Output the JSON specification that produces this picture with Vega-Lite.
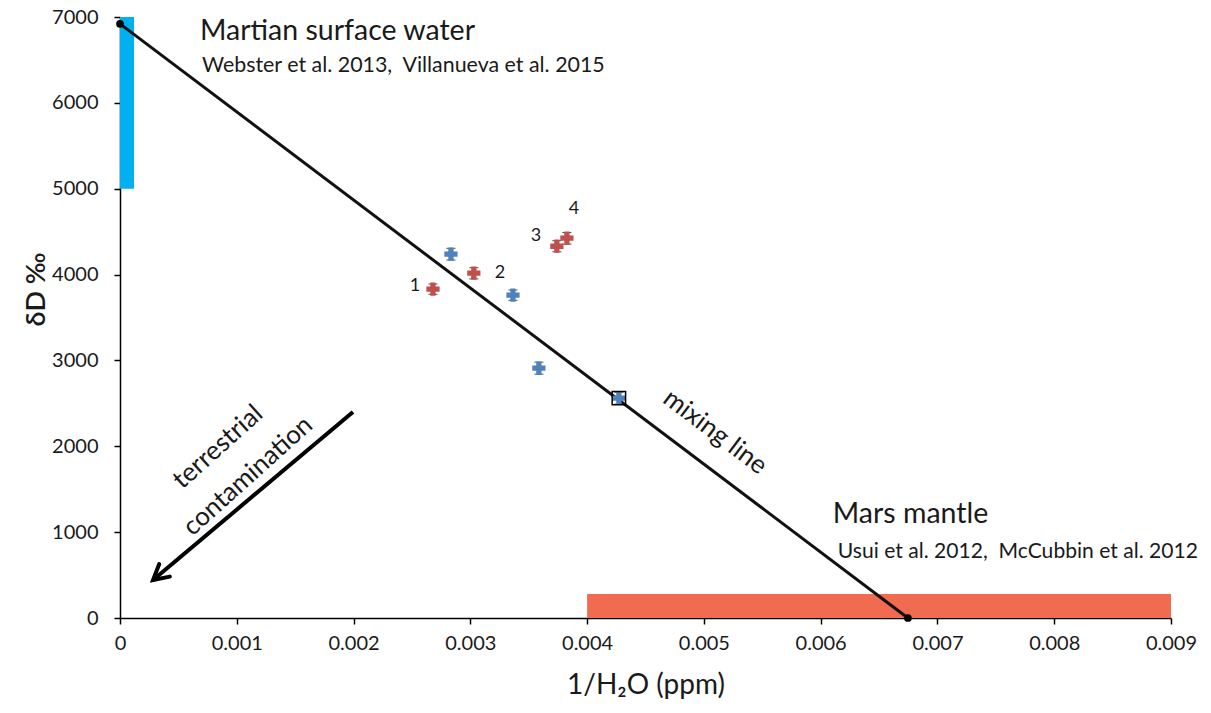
{
  "$schema": "https://vega.github.io/schema/vega-lite/v6.json",
  "autosize": "none",
  "width": 1051,
  "height": 601,
  "padding": {"left": 120, "top": 17, "right": 40, "bottom": 95},
  "background": "white",
  "config": {
    "font": "Lato",
    "view": {"stroke": null},
    "axis": {"grid": false, "domainColor": "black", "domainWidth": 1.5, "tickColor": "black", "tickWidth": 1.5, "tickSize": 6, "labelColor": "#1a1a1a", "labelFontSize": 20, "titleFontSize": 28, "titleFontWeight": "normal", "titleColor": "#1a1a1a"}
  },
  "datasets": {
    "samples": [
      {"h": 0.002834, "d": 4238, "series": "blue", "lo": 4170, "hi": 4306},
      {"h": 0.003365, "d": 3760, "series": "blue", "lo": 3700, "hi": 3820},
      {"h": 0.003587, "d": 2910, "series": "blue", "lo": 2840, "hi": 2980},
      {"h": 0.004272, "d": 2561, "series": "blue", "lo": 2490, "hi": 2630},
      {"h": 0.00268, "d": 3830, "series": "red", "lo": 3770, "hi": 3890},
      {"h": 0.00303, "d": 4016, "series": "red", "lo": 3950, "hi": 4080},
      {"h": 0.003741, "d": 4330, "series": "red", "lo": 4265, "hi": 4395},
      {"h": 0.003827, "d": 4424, "series": "red", "lo": 4355, "hi": 4490}
    ],
    "mixing": [
      {"h": 0, "d": 6920},
      {"h": 0.006747, "d": 0}
    ],
    "arrow": [
      {"h": 0.001995, "d": 2399, "o": 1},
      {"h": 0.000283, "d": 443, "o": 2}
    ],
    "bars": [
      {"h": 0, "h2": 0.00012, "d": 5000, "d2": 7000, "c": "#00B0F0"},
      {"h": 0.004, "h2": 0.009, "d": 0, "d2": 280, "c": "#F06B50"}
    ],
    "nums": [
      {"h": 0.002526, "d": 3865, "t": "1"},
      {"h": 0.003253, "d": 4016, "t": "2"},
      {"h": 0.003562, "d": 4447, "t": "3"},
      {"h": 0.003887, "d": 4761, "t": "4"}
    ]
  },
  "encoding": {
    "x": {"field": "h", "type": "quantitative", "scale": {"domain": [0, 0.009], "nice": false, "zero": false},
      "axis": {"title": "1/H₂O (ppm)", "values": [0, 0.001, 0.002, 0.003, 0.004, 0.005, 0.006, 0.007, 0.008, 0.009], "labelExpr": "datum.value == 0 ? '0' : format(datum.value, '.3f')", "labelPadding": 9, "titleY": 53, "labelFlush": false}},
    "y": {"field": "d", "type": "quantitative", "scale": {"domain": [0, 7000], "nice": false},
      "axis": {"title": "δD ‰", "values": [0, 1000, 2000, 3000, 4000, 5000, 6000, 7000], "format": "d", "labelPadding": 16, "titleX": -70, "titleY": 272, "titleFontWeight": 600, "titleFontSize": 27, "labelFlush": false}}
  },
  "layer": [
    {"data": {"name": "bars"}, "mark": {"type": "rect"},
      "encoding": {"x2": {"field": "h2"}, "y2": {"field": "d2"}, "color": {"field": "c", "type": "nominal", "scale": null}}},
    {"data": {"name": "mixing"}, "mark": {"type": "line", "color": "#111", "strokeWidth": 3}, "encoding": {}},
    {"data": {"name": "mixing"}, "mark": {"type": "point", "filled": true, "color": "black", "size": 60, "opacity": 1}, "encoding": {}},
    {"data": {"name": "arrow"}, "mark": {"type": "line", "color": "black", "strokeWidth": 4}, "encoding": {"order": {"field": "o"}}},
    {"data": {"name": "arrow"}, "transform": [{"filter": "datum.o == 2"}],
      "mark": {"type": "point", "shape": "M -0.55 1 L 0 0 L 0.55 1", "filled": false, "color": "black", "strokeWidth": 4, "size": 900, "angle": 230, "opacity": 1, "strokeCap": "round"}, "encoding": {}},
    {"data": {"name": "samples"}, "mark": {"type": "errorbar", "ticks": {"size": 9, "color": "black"}, "color": "black"},
      "encoding": {"y": {"field": "lo", "type": "quantitative"}, "y2": {"field": "hi"}}},
    {"data": {"name": "samples"}, "mark": {"type": "point", "shape": "M -0.4 -1 L 0.4 -1 L 0.4 -0.4 L 1 -0.4 L 1 0.4 L 0.4 0.4 L 0.4 1 L -0.4 1 L -0.4 0.4 L -1 0.4 L -1 -0.4 L -0.4 -0.4 Z", "filled": true, "size": 175, "opacity": 1},
      "encoding": {"color": {"field": "series", "type": "nominal", "scale": {"domain": ["blue", "red"], "range": ["#4F81BD", "#C0504D"]}, "legend": null}}},
    {"data": {"name": "samples"}, "transform": [{"filter": "datum.h > 0.0042"}],
      "mark": {"type": "point", "shape": "square", "filled": false, "color": "black", "strokeWidth": 1.5, "size": 180, "opacity": 1}, "encoding": {}},
    {"data": {"name": "nums"}, "mark": {"type": "text", "fontSize": 18, "color": "#1a1a1a", "baseline": "middle", "align": "center"},
      "encoding": {"text": {"field": "t"}}},
    {"data": {"values": [
        {"h": 0.000685, "d": 6732, "t": "Martian surface water", "s": 28.5},
        {"h": 0.000702, "d": 6359, "t": "Webster et al. 2013,\u00a0\u00a0Villanueva et al. 2015", "s": 21.4},
        {"h": 0.006104, "d": 1106, "t": "Mars mantle", "s": 28.5},
        {"h": 0.006147, "d": 699, "t": "Usui et al. 2012,\u00a0\u00a0McCubbin et al. 2012", "s": 21.1}
      ]},
      "mark": {"type": "text", "align": "left", "baseline": "alphabetic", "color": "#1a1a1a"},
      "encoding": {"text": {"field": "t"}, "size": {"field": "s", "type": "quantitative", "scale": null}}},
    {"data": {"values": [
        {"h": 0.005095, "d": 2166, "t": "mixing line", "a": 37},
        {"h": 0.000839, "d": 1992, "t": "terrestrial", "a": -42},
        {"h": 0.001096, "d": 1654, "t": "contamination", "a": -42}
      ]},
      "mark": {"type": "text", "align": "center", "baseline": "middle", "fontSize": 26, "color": "#1a1a1a"},
      "encoding": {"text": {"field": "t"}, "angle": {"field": "a", "type": "quantitative", "scale": null}}}
  ]
}
